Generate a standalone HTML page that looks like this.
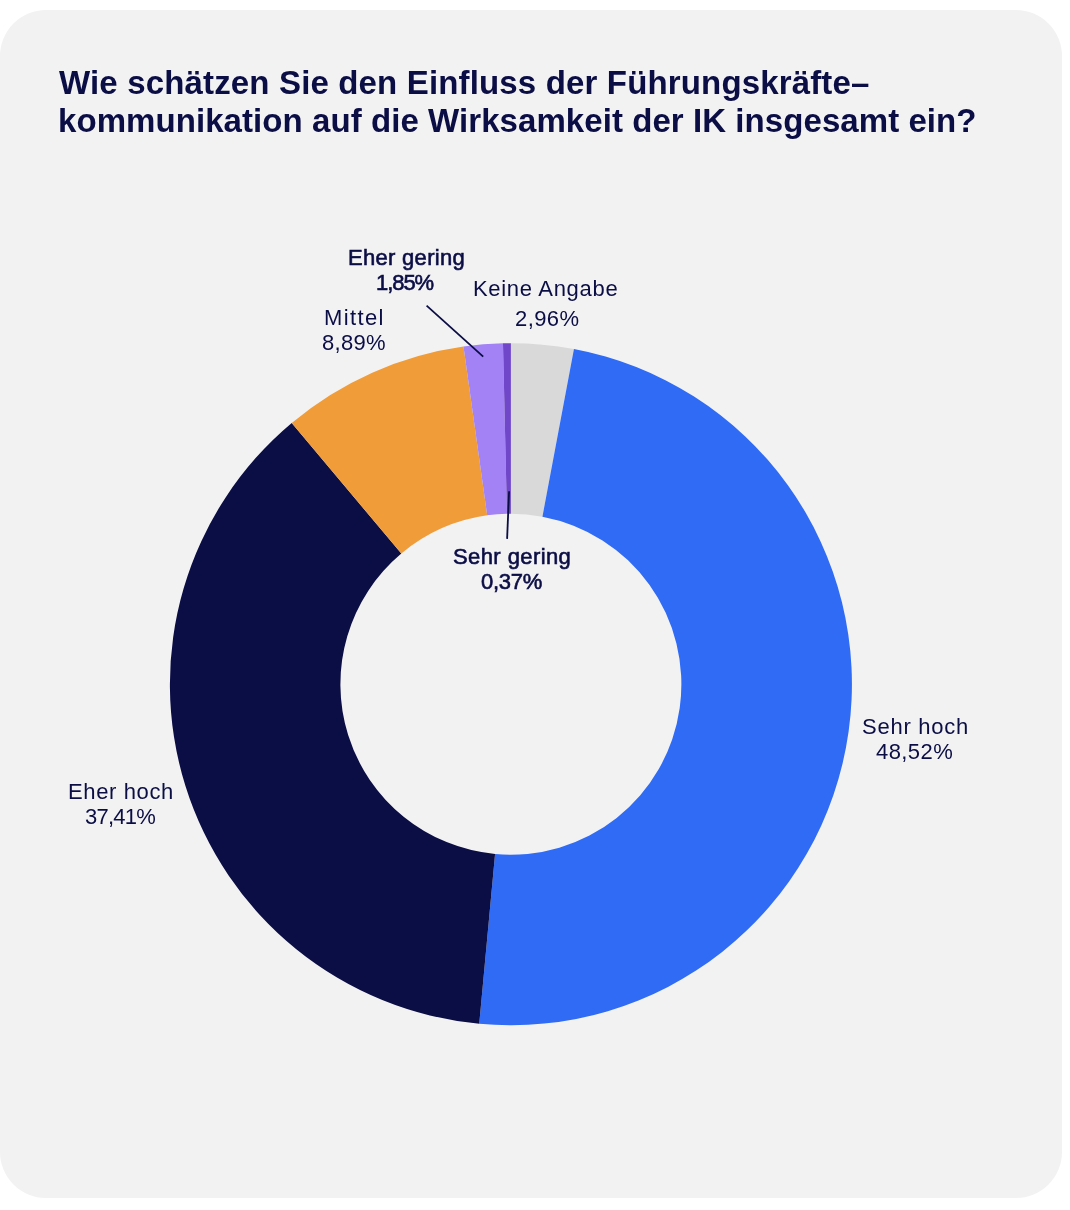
<!DOCTYPE html>
<html><head><meta charset="utf-8"><style>
html,body{margin:0;padding:0;background:#ffffff;width:1070px;height:1210px;overflow:hidden}
body{position:relative;font-family:"Liberation Sans",sans-serif;color:#0b0d45}
.card{position:absolute;left:0;top:10px;width:1062px;height:1188px;background:#f2f2f2;border-radius:46px}
.t{position:absolute;line-height:0;white-space:nowrap;-webkit-font-smoothing:antialiased;will-change:transform}
svg{position:absolute;left:0;top:0}
</style></head><body>
<div class="card"></div>
<svg width="1070" height="1210" viewBox="0 0 1070 1210">
<path d="M510.90,343.20A341.0,341.0 0 0 1 573.95,349.08L542.43,516.64A170.5,170.5 0 0 0 510.90,513.70Z" fill="#d9d9d9"/>
<path d="M573.95,349.08A341.0,341.0 0 0 1 479.24,1023.73L495.07,853.96A170.5,170.5 0 0 0 542.43,516.64Z" fill="#2f6bf5"/>
<path d="M479.24,1023.73A341.0,341.0 0 0 1 291.73,422.96L401.31,553.58A170.5,170.5 0 0 0 495.07,853.96Z" fill="#0b0d45"/>
<path d="M291.73,422.96A341.0,341.0 0 0 1 463.49,346.51L487.19,515.36A170.5,170.5 0 0 0 401.31,553.58Z" fill="#f09c39"/>
<path d="M463.49,346.51A341.0,341.0 0 0 1 502.97,343.29L506.94,513.75A170.5,170.5 0 0 0 487.19,515.36Z" fill="#a282f5"/>
<path d="M502.97,343.29A341.0,341.0 0 0 1 510.90,343.20L510.90,513.70A170.5,170.5 0 0 0 506.94,513.75Z" fill="#7047c9"/>
<line x1="426.6" y1="305.6" x2="483.2" y2="356.6" stroke="#0b0d45" stroke-width="1.8"/>
<line x1="509.1" y1="491.2" x2="507.1" y2="538.9" stroke="#0b0d45" stroke-width="1.8"/>
</svg>
<div class="t" style="left:59.3px;top:82.6px;font-weight:700;font-size:33px;letter-spacing:0.156px">Wie schätzen Sie den Einfluss der Führungskräfte–</div>
<div class="t" style="left:58.1px;top:120.8px;font-weight:700;font-size:33px;letter-spacing:0.069px">kommunikation auf die Wirksamkeit der IK insgesamt ein?</div>
<div class="t" style="left:861.6px;top:727.1px;font-weight:400;font-size:22px;letter-spacing:0.75px">Sehr hoch</div>
<div class="t" style="left:875.9px;top:752.1px;font-weight:400;font-size:22px;letter-spacing:0.42px">48,52%</div>
<div class="t" style="left:67.9px;top:791.9px;font-weight:400;font-size:22px;letter-spacing:0.625px">Eher hoch</div>
<div class="t" style="left:85.0px;top:817.1px;font-weight:400;font-size:22px;letter-spacing:-0.74px">37,41%</div>
<div class="t" style="left:323.5px;top:317.5px;font-weight:400;font-size:22px;letter-spacing:1.38px">Mittel</div>
<div class="t" style="left:322.1px;top:342.7px;font-weight:400;font-size:22px;letter-spacing:0.275px">8,89%</div>
<div class="t" style="left:473.2px;top:289.2px;font-weight:400;font-size:22px;letter-spacing:0.691px">Keine Angabe</div>
<div class="t" style="left:514.5px;top:318.8px;font-weight:400;font-size:22px;letter-spacing:0.4px">2,96%</div>
<div class="t" style="left:347.6px;top:258.1px;font-weight:400;-webkit-text-stroke:0.6px currentColor;font-size:22px;letter-spacing:0.3px">Eher gering</div>
<div class="t" style="left:376.2px;top:282.7px;font-weight:400;-webkit-text-stroke:0.6px currentColor;font-size:22px;letter-spacing:-1.05px">1,85%</div>
<div class="t" style="left:452.8px;top:556.7px;font-weight:400;-webkit-text-stroke:0.6px currentColor;font-size:22px;letter-spacing:0.41px">Sehr gering</div>
<div class="t" style="left:480.6px;top:581.6px;font-weight:400;-webkit-text-stroke:0.6px currentColor;font-size:22px;letter-spacing:-0.275px">0,37%</div>
</body></html>
